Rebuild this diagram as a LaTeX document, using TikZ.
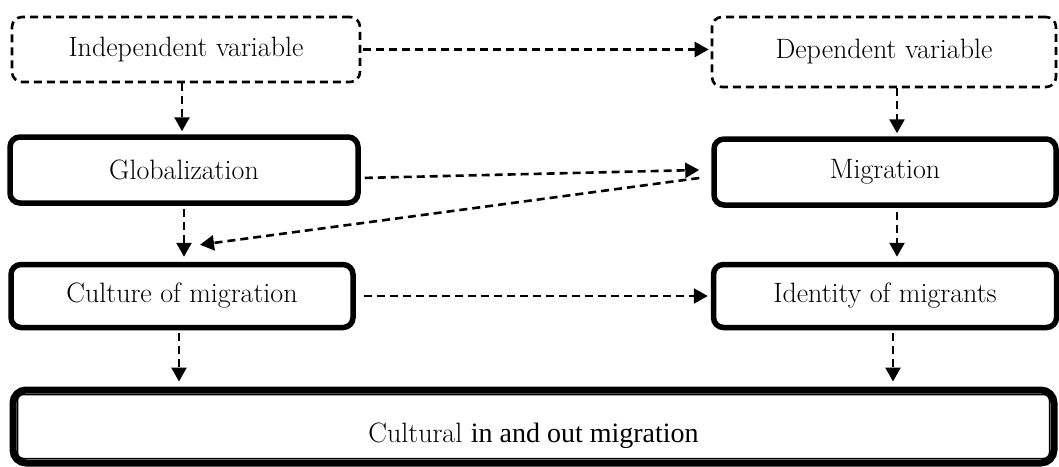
\documentclass[tikz,border=0pt]{standalone}
\usepackage{fontspec}
\newfontfamily\tnr{Liberation Serif}
\usetikzlibrary{arrows.meta}
\begin{document}
\begin{tikzpicture}[x=1pt,y=-1pt,
  lbl/.style={font=\fontsize{28}{32}\selectfont},
  dbox/.style={draw, line width=2.6pt, dash pattern=on 8pt off 5pt, rounded corners=10pt, lbl},
  tbox/.style={draw, line width=5.5pt, rounded corners=10pt, lbl},
  conn/.style={line width=2.6pt, dash pattern=on 8pt off 5pt, -{Triangle[width=15pt,length=14pt]}}]
\useasboundingbox (0,0) rectangle (1059,466);
% nodes
\node[dbox, minimum width=348pt, minimum height=65pt] (ind) at (186,49.5) {Independent variable};
\node[dbox, minimum width=344pt, minimum height=70pt] (dep) at (884,52) {Dependent variable};
\node[tbox, minimum width=348pt, minimum height=66pt] (glob) at (184,170) {Globalization};
\node[tbox, minimum width=342pt, minimum height=66pt] (mig) at (885,172) {Migration};
\node[tbox, minimum width=342pt, minimum height=63pt] (cult) at (182,296) {Culture of migration};
\node[tbox, minimum width=343pt, minimum height=63pt] (ident) at (885,296) {Identity of migrants};
\node[draw, line width=7pt, rounded corners=13pt, minimum width=1041pt, minimum height=73pt] (bot) at (533.5,426.5) {};
\draw[line width=1.5pt, rounded corners=6pt] ([shift={(8,8)}]bot.north west) rectangle ([shift={(-8,-8)}]bot.south east);
\node[lbl] (botlbl) at ([shift={(0,9)}]bot.center) {Cultural {\tnr in and out migration}};
% connectors
\draw[conn, shorten <=2pt, shorten >=2pt] (ind.east) -- (ind.east -| dep.west);
\draw[conn, shorten >=3pt] ([shift={(-4,0)}]ind.south) -- ([shift={(-4,0)}]ind.south |- glob.north);
\draw[conn, shorten >=3pt] ([shift={(13,0)}]dep.south) -- ([shift={(13,0)}]dep.south |- mig.north);
\draw[conn, shorten <=4pt] ([shift={(0,8)}]glob.east) -- ([shift={(-12,-2)}]mig.west);
\draw[conn] ([shift={(-12,6)}]mig.west) -- ([shift={(18,-17)}]cult.north);
\draw[conn, shorten <=3pt, shorten >=5pt] (glob.south) -- (glob.south |- cult.north);
\draw[conn, shorten <=4pt, shorten >=5pt] ([shift={(12,0)}]mig.south) -- ([shift={(12,0)}]mig.south |- ident.north);
\draw[conn, shorten <=8pt, shorten >=3pt] (cult.east) -- (cult.east -| ident.west);
\draw[conn, shorten <=3pt, shorten >=5pt] ([shift={(-3,0)}]cult.south) -- ([shift={(-3,0)}]cult.south |- bot.north);
\draw[conn, shorten <=3pt, shorten >=5pt] ([shift={(8,0)}]ident.south) -- ([shift={(8,0)}]ident.south |- bot.north);
\end{tikzpicture}
\end{document}
